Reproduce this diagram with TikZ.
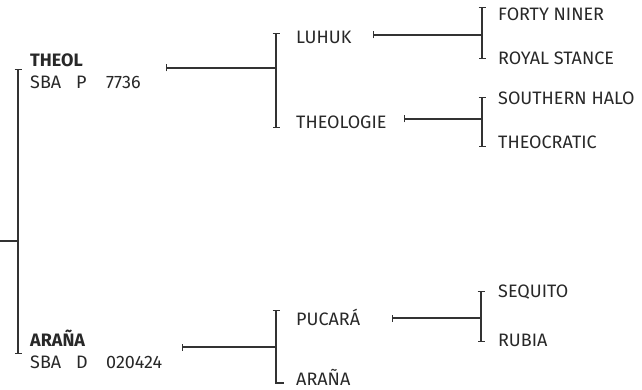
\documentclass[tikz,border=0pt]{standalone}
\usepackage{fontspec}
\setmainfont{Fira Sans}
\usepackage{tikz}
\usetikzlibrary{arrows.meta}
\definecolor{inkGray}{RGB}{40, 40, 40}
\definecolor{lineGray}{RGB}{50, 50, 50}

\tikzset{
  horse/.style={anchor=west, inner sep=0pt, text=inkGray, font=\fontsize{18}{22}\selectfont},
  regline/.style={horse, align=left},
  link/.style={draw=lineGray, line width=1.2pt, {Bar[width=7pt,line width=1.2pt]}-},
  bracket/.style={draw=lineGray, line width=1.2pt, {Bar[width=7pt,line width=1.2pt]}-{Bar[width=7pt,line width=1.2pt]}}
}
\newcommand{\regno}[2]{\makebox[46pt][l]{SBA}\makebox[30pt][l]{#1}#2}

\begin{document}
\begin{tikzpicture}[x=1pt, y=-1pt]
        \useasboundingbox (0,0) rectangle (642,390);

        % Subject
        \coordinate (root) at (0,241);
        \coordinate (rootjoin) at (18,241);
        \coordinate (gen0top) at (18,69);
        \coordinate (gen0bot) at (18,354);
        \draw[bracket] (gen0top) -- (gen0bot);
        \draw[draw=lineGray, line width=1.2pt] (root) -- (rootjoin);

        % Sire and dam
        \node[regline] (theol) at (30,71) {\textbf{THEOL}\\\regno{P}{7736}};
        \node[regline] (arana) at (30,349) {\textbf{ARAÑA}\\\regno{D}{020424}};

        % Second generation
        \node[horse] (luhuk) at (296,37) {LUHUK};
        \node[horse] (theologie) at (296,122) {THEOLOGIE};
        \node[horse] (pucara) at (296,317) {PUCARÁ};
        \node[horse] (aranadam) at (296,377) {ARAÑA};

        % Third generation
        \node[horse] (fortyniner) at (498,14) {FORTY NINER};
        \node[horse] (royalstance) at (498,58) {ROYAL STANCE};
        \node[horse] (southernhalo) at (498,98) {SOUTHERN HALO};
        \node[horse] (theocratic) at (498,142) {THEOCRATIC};
        \node[horse] (sequito) at (498,292) {SEQUITO};
        \node[horse] (rubia) at (498,340) {RUBIA};

        % Sire side
        \coordinate (theoltick) at (166,68);
        \coordinate (theoljoin) at (276,68);
        \draw[link] (theoltick) -- (theoljoin);
        \draw[bracket] (276,33) coordinate (luhukend) -- (276,128) coordinate (theologieend);

        \coordinate (luhuktick) at (373,35);
        \coordinate (luhukjoin) at (482,35);
        \draw[link] (luhuktick) -- (luhukjoin);
        \draw[bracket] (482,7) coordinate (fortyend) -- (482,59) coordinate (royalend);

        \coordinate (theologietick) at (404,119);
        \coordinate (theologiejoin) at (482,119);
        \draw[link] (theologietick) -- (theologiejoin);
        \draw[bracket] (482,97) coordinate (southernend) -- (482,147) coordinate (theocraticend);

        % Dam side
        \coordinate (aranatick) at (182,347);
        \coordinate (aranajoin) at (276,347);
        \draw[link] (aranatick) -- (aranajoin);
        \coordinate (pucaraend) at (276,310);
        \coordinate (aranadamend) at (276,383);
        \draw[link] (pucaraend) -- (aranadamend) -- ++(8,0);

        \coordinate (pucaratick) at (392,318);
        \coordinate (pucarajoin) at (481,318);
        \draw[link] (pucaratick) -- (pucarajoin);
        \draw[bracket] (481,291) coordinate (sequitoend) -- (481,342) coordinate (rubiaend);
      \end{tikzpicture}
\end{document}
